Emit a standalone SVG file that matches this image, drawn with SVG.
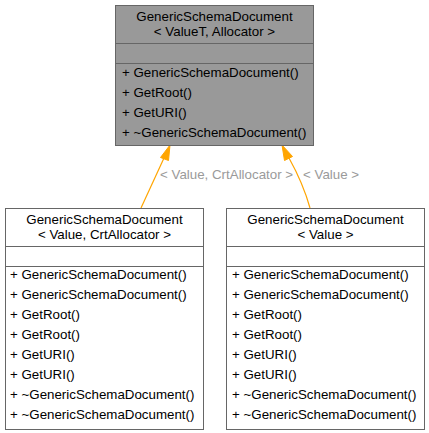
<svg xmlns="http://www.w3.org/2000/svg" width="429" height="433" viewBox="0 0 429 433">
<style>
text{font-family:"Liberation Sans",Arial,sans-serif;font-size:13.33px;fill:#000}
.c{text-anchor:middle}
.lbl{fill:#9a9a9a}
.box{stroke:#666666;stroke-width:1}
.top{fill:#999999}
.wht{fill:#ffffff}
.sep{stroke:#666666;stroke-width:1}
.edge{fill:none;stroke:#ffa500;stroke-width:1.2}
.ah{fill:#ffa500;stroke:#ffa500}
</style>
<rect width="429" height="433" fill="#ffffff"/>
<g id="connectors">
<path class="edge" d="M141,208 L164,158"/>
<polygon class="ah" points="170,145 160.5,157.5 168.5,160.5"/>
<text class="lbl" x="160" y="179">&lt; Value, CrtAllocator &gt;</text>
<path class="edge" d="M310,208 C305,190 299,176 289,158"/>
<polygon class="ah" points="282,145 284.5,160.5 292.5,156.5"/>
<text class="lbl" x="303" y="179">&lt; Value &gt;</text>
</g>
<g id="node_base">
<rect class="box top" x="115.5" y="5.5" width="198" height="140"/>
<line class="sep" x1="115.5" y1="43.5" x2="313.5" y2="43.5"/>
<line class="sep" x1="115.5" y1="63.5" x2="313.5" y2="63.5"/>
<text class="c" x="214.5" y="21">GenericSchemaDocument</text>
<text class="c" x="214.5" y="36">&lt; ValueT, Allocator &gt;</text>
<text x="122" y="77">+ GenericSchemaDocument()</text>
<text x="122" y="97">+ GetRoot()</text>
<text x="122" y="117">+ GetURI()</text>
<text x="122" y="137">+ ~GenericSchemaDocument()</text>
</g>
<g id="node_crt">
<rect class="box wht" x="5.5" y="208.5" width="198" height="221"/>
<line class="sep" x1="5.5" y1="246.5" x2="203.5" y2="246.5"/>
<line class="sep" x1="5.5" y1="266.5" x2="203.5" y2="266.5"/>
<text class="c" x="104.5" y="224">GenericSchemaDocument</text>
<text class="c" x="104.5" y="239">&lt; Value, CrtAllocator &gt;</text>
<text x="10" y="279">+ GenericSchemaDocument()</text>
<text x="10" y="299">+ GenericSchemaDocument()</text>
<text x="10" y="319">+ GetRoot()</text>
<text x="10" y="339">+ GetRoot()</text>
<text x="10" y="359">+ GetURI()</text>
<text x="10" y="379">+ GetURI()</text>
<text x="10" y="399">+ ~GenericSchemaDocument()</text>
<text x="10" y="419">+ ~GenericSchemaDocument()</text>
</g>
<g id="node_value">
<rect class="box wht" x="226.5" y="208.5" width="198" height="221"/>
<line class="sep" x1="226.5" y1="246.5" x2="424.5" y2="246.5"/>
<line class="sep" x1="226.5" y1="266.5" x2="424.5" y2="266.5"/>
<text class="c" x="325.5" y="224">GenericSchemaDocument</text>
<text class="c" x="325.5" y="239">&lt; Value &gt;</text>
<text x="232" y="279">+ GenericSchemaDocument()</text>
<text x="232" y="299">+ GenericSchemaDocument()</text>
<text x="232" y="319">+ GetRoot()</text>
<text x="232" y="339">+ GetRoot()</text>
<text x="232" y="359">+ GetURI()</text>
<text x="232" y="379">+ GetURI()</text>
<text x="232" y="399">+ ~GenericSchemaDocument()</text>
<text x="232" y="419">+ ~GenericSchemaDocument()</text>
</g>
</svg>
